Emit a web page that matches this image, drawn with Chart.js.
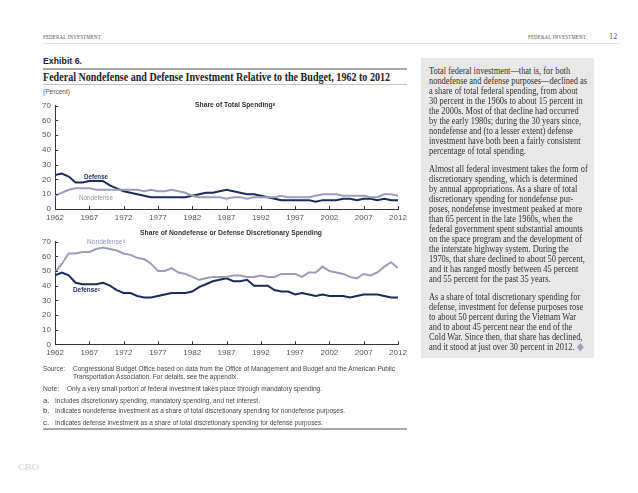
<!DOCTYPE html>
<html><head><meta charset="utf-8">
<script src="https://cdn.jsdelivr.net/npm/chart.js@4.4.1/dist/chart.umd.min.js"></script>
<style>
html,body{margin:0;padding:0;background:#fff;}
body{width:638px;height:493px;position:relative;overflow:hidden;font-family:'Liberation Sans',Arial,sans-serif;color:#333;}
.a{position:absolute;white-space:nowrap;line-height:10px;transform-origin:0 50%;}
.hd{font-family:'Liberation Serif',serif;font-size:7px;color:#555;letter-spacing:0.2px;}
.nt{font-size:8px;color:#444;}
.rl{position:absolute;left:429px;white-space:nowrap;font-family:'Liberation Serif',serif;font-size:10.5px;line-height:10px;color:#333;transform-origin:0 50%;}
canvas{position:absolute;}
sup{font-size:5px;vertical-align:top;position:relative;top:-1px;}
.rule{position:absolute;}
</style></head><body>

<div class="a hd" style="left:43px;top:32px" data-w="58">FEDERAL INVESTMENT</div>
<div class="a hd" style="left:528px;top:32px" data-w="58">FEDERAL INVESTMENT</div>
<div class="a hd" style="left:609px;top:32px;font-size:8px">12</div>
<div class="rule" style="left:43px;top:43px;width:577px;height:1px;background:#e4e4e4"></div>

<div class="a" style="left:43px;top:56px;font-weight:bold;font-size:9px;color:#222" data-w="39">Exhibit 6.</div>
<div class="rule" style="left:43px;top:68px;width:364px;height:2px;background:#a8a8a8"></div>
<div class="a" style="left:43px;top:71px;font-family:'Liberation Serif',serif;font-weight:bold;font-size:13px;line-height:12px;color:#222" data-w="347">Federal Nondefense and Defense Investment Relative to the Budget, 1962 to 2012</div>
<div class="rule" style="left:43px;top:84px;width:364px;height:1px;background:#c4c4c4"></div>
<div class="a" style="left:43px;top:87px;font-size:7.5px;color:#555" data-w="27">(Percent)</div>

<div id="box" style="position:absolute;left:421px;top:58px;width:173px;height:300px;background:#e8e8e8"></div>

<canvas id="c1" width="420" height="135" style="left:0;top:95px;width:420px;height:135px"></canvas>
<canvas id="c2" width="420" height="135" style="left:0;top:230px;width:420px;height:135px"></canvas>

<div class="a" style="left:195px;top:100px;font-weight:bold;font-size:8px;color:#333" data-w="80">Share of Total Spending<sup>a</sup></div>
<div class="a" style="left:84px;top:172px;font-weight:bold;font-size:8px;color:#1c2a5c" data-w="24">Defense</div>
<div class="a" style="left:79px;top:193px;font-size:8px;color:#8f91b2" data-w="34">Nondefense</div>

<div class="a" style="left:140px;top:228px;font-weight:bold;font-size:8px;color:#333" data-w="182">Share of Nondefense or Defense Discretionary Spending</div>
<div class="a" style="left:87px;top:237px;font-size:8px;color:#8f91b2" data-w="38">Nondefense<sup>b</sup></div>
<div class="a" style="left:73px;top:285px;font-weight:bold;font-size:8px;color:#1c2a5c" data-w="27">Defense<sup>c</sup></div>

<div class="a nt" style="left:43px;top:364px" data-w="22">Source:</div>
<div class="a nt" style="left:73px;top:364px" data-w="322">Congressional Budget Office based on data from the Office of Management and Budget and the American Public</div>
<div class="a nt" style="left:73px;top:372px" data-w="165">Transportation Association. For details, see the appendix.</div>
<div class="a nt" style="left:43px;top:384px" data-w="16">Note:</div>
<div class="a nt" style="left:67px;top:384px" data-w="255">Only a very small portion of federal investment takes place through mandatory spending.</div>
<div class="a nt" style="left:43px;top:396px">a.</div>
<div class="a nt" style="left:55px;top:396px" data-w="205">Includes discretionary spending, mandatory spending, and net interest.</div>
<div class="a nt" style="left:43px;top:406px">b.</div>
<div class="a nt" style="left:55px;top:406px" data-w="290">Indicates nondefense investment as a share of total discretionary spending for nondefense purposes.</div>
<div class="a nt" style="left:43px;top:418px">c.</div>
<div class="a nt" style="left:55px;top:418px" data-w="268">Indicates defense investment as a share of total discretionary spending for defense purposes.</div>
<div class="rule" style="left:43px;top:428px;width:364px;height:2px;background:#a8a8a8"></div>

<div class="a" style="left:18px;top:462px;font-family:'Liberation Serif',serif;font-size:9px;color:#cfcfcf" data-w="21">CBO</div>

<div id="rtext"></div>

<script>
// ---------- DATA ----------
const years = [1962,1963,1964,1965,1966,1967,1968,1969,1970,1971,
  1972,1973,1974,1975,1976,1977,1978,1979,1980,1981,
  1982,1983,1984,1985,1986,1987,1988,1989,1990,1991,
  1992,1993,1994,1995,1996,1997,1998,1999,2000,2001,
  2002,2003,2004,2005,2006,2007,2008,2009,2010,2011,2012];
const yearTicks = [1962,1967,1972,1977,1982,1987,1992,1997,2002,2007,2012];
const pctTicks = [0,10,20,30,40,50,60,70];

// Share of total spending
const totalDefense = [23,24,22,18,18,19,19,19,16,14,
  12,11,10,9,8,8,8,8,8,8,
  9,10,11,11,12,13,12,11,10,10,
  9,8,7,6,6,6,6,6,5,6,
  6,6,7,7,6,7,7,6,7,6,6];
const totalNondefense = [9,11,13,14,14,14,13,13,13,13,
  13,13,13,12,13,12,12,13,12,11,
  9,8,8,8,8,7,8,8,7,8,
  8,8,8,9,8,8,8,8,9,10,
  10,10,9,9,9,9,8,8,10,10,9];

// Share of nondefense or defense discretionary spending
const discNondefense = [49,55,62,62,63,63,65,66,65,64,
  62,61,59,58,55,50,50,52,49,48,
  46,44,45,46,46,46,47,47,46,46,
  47,46,46,48,48,48,46,49,49,53,
  50,49,48,46,45,48,47,49,53,56,52];
const discDefense = [47,49,47,42,41,41,41,42,40,37,
  35,35,33,32,32,33,34,35,35,35,
  36,39,41,43,44,45,43,43,44,40,
  40,40,37,36,36,34,35,34,33,34,
  33,33,33,32,33,34,34,34,33,32,32];

const rightParas = [
 ["Total federal investment\u2014that is, for both",
  "nondefense and defense purposes\u2014declined as",
  "a share of total federal spending, from about",
  "30 percent in the 1960s to about 15 percent in",
  "the 2000s. Most of that decline had occurred",
  "by the early 1980s; during the 30 years since,",
  "nondefense and (to a lesser extent) defense",
  "investment have both been a fairly consistent",
  "percentage of total spending."],
 ["Almost all federal investment takes the form of",
  "discretionary spending, which is determined",
  "by annual appropriations. As a share of total",
  "discretionary spending for nondefense pur-",
  "poses, nondefense investment peaked at more",
  "than 65 percent in the late 1960s, when the",
  "federal government spent substantial amounts",
  "on the space program and the development of",
  "the interstate highway system. During the",
  "1970s, that share declined to about 50 percent,",
  "and it has ranged mostly between 45 percent",
  "and 55 percent for the past 35 years."],
 ["As a share of total discretionary spending for",
  "defense, investment for defense purposes rose",
  "to about 50 percent during the Vietnam War",
  "and to about 45 percent near the end of the",
  "Cold War. Since then, that share has declined,",
  "and it stood at just over 30 percent in 2012. <span style='color:#9b9db9'>\u25C6</span>"]
];
const paraTops = [66, 164, 292];

// ---------- right column text ----------
const rt = document.getElementById('rtext');
const lineEls = [];
rightParas.forEach((p, pi) => {
  p.forEach((ln, li) => {
    const d = document.createElement('div');
    d.className = 'rl';
    d.style.top = (paraTops[pi] + li * 10) + 'px';
    d.innerHTML = ln;
    rt.appendChild(d);
    lineEls.push(d);
  });
});
const refW = lineEls[1].getBoundingClientRect().width;
const rs = 158 / refW;
lineEls.forEach(d => d.style.transform = 'scaleX(' + rs + ')');

document.querySelectorAll('[data-w]').forEach(el => {
  const w = el.getBoundingClientRect().width;
  el.style.transform = 'scaleX(' + (parseFloat(el.dataset.w) / w) + ')';
});

// ---------- charts ----------
const NAVY = '#1c2a5c', LAV = '#9b9db9';
const tickFont = {family: "'Liberation Sans Narrow','Liberation Sans',Arial,sans-serif", size: 8};

const innerTicks = {
  id: 'innerTicks',
  afterDatasetsDraw(chart) {
    const {ctx, chartArea: ca, scales: {x, y}} = chart;
    ctx.save();
    ctx.strokeStyle = '#333'; ctx.lineWidth = 1;
    ctx.beginPath();
    y.ticks.forEach((t, i) => { const p = Math.round(y.getPixelForTick(i)) + 0.5; ctx.moveTo(ca.left, p); ctx.lineTo(ca.left + 3, p); });
    x.ticks.forEach((t, i) => { const p = Math.round(x.getPixelForTick(i)) + 0.5; ctx.moveTo(p, ca.bottom); ctx.lineTo(p, ca.bottom - 3); });
    ctx.stroke();
    ctx.restore();
  }
};

function makeChart(id, defVals, nonVals, topPad, xH) {
  const toPts = vals => years.map((yr, i) => ({x: yr, y: vals[i]}));
  return new Chart(document.getElementById(id), {
    type: 'line',
    data: {
      datasets: [
        {label: 'Nondefense', data: toPts(nonVals), borderColor: LAV, borderWidth: 2, pointRadius: 0, tension: 0, fill: false},
        {label: 'Defense', data: toPts(defVals), borderColor: NAVY, borderWidth: 2, pointRadius: 0, tension: 0, fill: false}
      ]
    },
    options: {
      responsive: false, animation: false, events: [],
      layout: {padding: {left: 0, right: 22, top: topPad, bottom: 0}},
      plugins: {legend: {display: false}, tooltip: {enabled: false}, title: {display: false}},
      scales: {
        x: {
          type: 'linear', min: 1962, max: 2012,
          afterBuildTicks: s => { s.ticks = yearTicks.map(v => ({value: v})); },
          afterFit: s => { s.height = xH; },
          grid: {display: false, drawTicks: false},
          border: {display: true, color: '#333', width: 1},
          ticks: {autoSkip: false, maxRotation: 0, padding: 4, color: '#555', font: tickFont, callback: v => String(v)}
        },
        y: {
          min: 0, max: 70,
          afterBuildTicks: s => { s.ticks = pctTicks.map(v => ({value: v})); },
          afterFit: s => { s.width = 55; },
          grid: {display: false, drawTicks: false},
          border: {display: true, color: '#333', width: 1},
          ticks: {padding: 4, color: '#555', font: tickFont, callback: v => String(v)}
        }
      }
    },
    plugins: [innerTicks]
  });
}

makeChart('c1', totalDefense, totalNondefense, 10.7, 21);
makeChart('c2', discDefense, discNondefense, 11.7, 20.7);
</script>
</body></html>
